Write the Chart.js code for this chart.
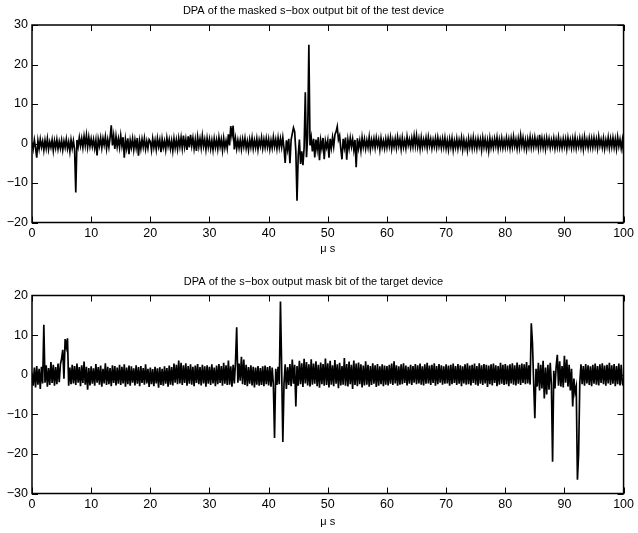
<!DOCTYPE html>
<html>
<head>
<meta charset="utf-8">
<script src="https://cdn.jsdelivr.net/npm/chart.js@4.4.1/dist/chart.umd.min.js"></script>
<style>
  html, body { margin: 0; padding: 0; background: #fff; }
  #wrap { position: relative; width: 638px; height: 533px; }
  canvas { position: absolute; left: 0; }
</style>
</head>
<body>
<div id="wrap">
  <canvas id="c1" width="638" height="266" style="top:0px"></canvas>
  <canvas id="c2" width="638" height="267" style="top:266px"></canvas>
</div>
<script>
// ---- data (sampled every 0.2 µs from 0 to 100 µs) ----
const timeStart = 0;
const sampleStep = 0.2;

const titleTop = 'DPA of the masked s\u2212box output bit of the test device';
const titleBottom = 'DPA of the s\u2212box output mask bit of the target device';
const xAxisLabel = '\u03bc s';

const xTickValues = [0, 10, 20, 30, 40, 50, 60, 70, 80, 90, 100];
const yTickValuesTop = [-20, -10, 0, 10, 20, 30];
const yTickValuesBottom = [-30, -20, -10, 0, 10, 20];

const dpaTestDevice = [
  0.3,-1.4,0.9,-1.1,-3.6,0.7,-1.3,1.1,-0.9,0.6,-1.7,0.8,-1.2,1.2,-1.5,0.4,-1.0,0.9,-1.8,0.7,-1.1,1.0,-1.4,0.5,-1.2,
  0.8,-1.6,0.6,-1.0,1.1,-1.3,0.4,-2.0,0.9,-1.2,0.7,-1.5,-12.4,0.9,-0.8,1.5,-0.6,1.3,-1.0,1.8,-0.5,2.1,-0.9,1.6,-0.7,
  1.2,-0.8,1.0,-1.2,0.9,-3.0,1.1,-0.6,1.4,-1.1,1.3,-0.4,1.7,-1.3,1.0,-0.9,1.5,4.6,-0.5,2.0,-1.4,1.8,-0.8,1.2,-1.0,
  2.0,-0.6,1.6,-3.6,1.0,-1.2,1.3,-2.7,0.8,-1.0,1.2,-1.6,0.9,-1.1,1.4,-3.1,0.7,-1.3,1.1,-0.9,1.3,-1.4,0.6,-1.2,1.0,
  0.5,-1.7,1.2,-1.0,0.8,-1.5,1.3,-0.8,0.9,-2.2,1.1,-1.0,0.6,-1.6,1.4,-0.7,1.0,-1.3,0.7,-1.8,1.2,-1.1,0.9,-1.4,1.3,
  -0.8,1.5,-1.2,2.0,-0.9,1.1,-1.6,1.8,-1.0,2.2,-0.6,1.4,-1.3,1.0,-1.9,1.6,-0.8,1.2,-1.1,1.9,-0.7,1.0,-1.5,1.3,-0.9,
  1.1,-1.3,0.8,-1.6,1.2,-1.0,0.9,-1.4,1.5,-0.8,1.0,-1.7,1.3,-1.1,0.7,-1.2,2.3,-0.5,4.4,2.0,4.5,-1.5,1.2,-1.3,0.8,
  -1.1,0.9,-1.4,1.1,-0.8,1.3,-1.2,0.6,-1.6,1.0,-0.9,1.4,-1.3,0.8,-1.0,1.2,-1.5,0.9,-0.7,1.5,-1.2,1.0,-1.0,1.3,-0.9,
  1.1,-1.4,0.8,-1.1,1.6,-0.8,1.0,-1.3,1.4,-1.0,1.2,-0.9,1.5,-1.2,-4.9,0.8,-1.5,1.2,-5.0,0.9,2.5,4.0,3.0,-2.0,-14.5,
  -3.0,1.0,-5.2,-2.0,-5.5,-1.0,13.0,-3.5,2.0,25.0,-0.5,1.5,-2.0,1.2,-3.5,1.0,-1.5,1.6,-4.2,0.8,-1.2,1.4,-4.0,0.6,-1.0,
  0.8,-3.6,1.2,-1.1,1.5,-0.8,2.2,3.0,4.3,1.0,2.0,-1.3,-4.0,1.2,-1.0,1.5,-4.1,0.9,-1.2,1.4,-0.8,1.1,-1.6,0.9,-6.0,
  1.3,-1.2,0.7,-1.8,1.5,-0.9,1.1,-1.3,0.8,-1.0,1.6,-1.4,0.9,-0.8,1.2,-1.1,1.4,-0.6,1.0,-1.5,1.3,-0.9,0.7,-1.2,1.1,
  -1.0,1.3,-0.7,1.5,-1.3,0.9,-0.8,1.2,-1.1,1.6,-0.6,1.1,-1.4,1.4,-0.9,0.8,-1.2,1.7,-0.5,1.0,-1.0,1.3,-0.8,1.9,-0.6,
  2.0,-0.8,1.2,-1.3,1.5,-0.9,1.0,-0.7,1.4,-1.1,1.6,-0.6,1.1,-1.2,0.9,-0.8,1.3,-1.0,1.5,-0.7,1.0,-1.1,1.2,-0.9,1.4,
  -1.2,0.8,-1.5,1.1,-0.9,1.3,-1.6,0.7,-1.0,1.2,-1.3,0.9,-0.8,1.4,-1.5,1.0,-1.1,0.6,-1.7,1.2,-0.9,1.1,-1.2,1.5,-1.0,
  0.9,-1.3,1.2,-0.8,1.0,-1.6,1.4,-0.9,1.1,-1.2,0.8,-1.8,1.3,-1.0,0.9,-1.1,1.2,-0.7,1.5,-1.3,1.0,-0.9,1.3,-1.1,0.8,
  -1.0,1.4,-0.8,1.1,-1.2,1.3,-0.9,1.7,-0.7,1.0,-1.3,1.2,-1.0,2.0,-0.6,1.4,-1.1,0.9,-1.4,1.1,-0.8,1.6,-1.0,1.2,-0.9,
  1.5,-0.7,1.0,-1.2,2.2,-0.8,1.3,-1.0,1.1,-1.3,1.4,-0.6,1.2,-1.1,0.9,-0.8,1.3,-1.2,1.0,-0.9,1.5,-1.0,0.8,-1.1,1.2,
  -0.8,1.1,-1.3,1.4,-0.7,1.0,-1.1,1.2,-0.9,1.5,-1.2,0.9,-0.8,1.3,-1.0,1.1,-1.4,1.6,-0.7,1.0,-1.1,1.3,-0.9,1.2,-1.0,
  1.4,-0.8,1.1,-1.2,1.7,-0.6,1.0,-1.0,1.3,-1.3,0.9,-0.8,1.5,-1.1,1.2,-0.9,1.4,-1.0,1.1,-1.3,1.6,-0.7,1.0,-1.2,0.9,
  -2.5
];

const dpaTargetDevice = [
  0.5,-2.8,1.8,-3.2,2.2,-2.5,1.5,-3.6,2.0,-2.2,12.6,-2.0,2.4,-3.0,1.7,-2.6,3.2,-2.1,2.5,-2.8,1.9,-2.4,2.8,-1.9,2.6,
  4.0,6.3,-1.0,9.0,7.0,9.2,-2.8,1.8,-2.4,2.5,-2.2,2.2,-2.6,2.8,-2.0,1.9,-2.9,2.4,-2.1,3.3,-2.5,2.0,-3.8,1.7,-2.7,
  2.1,-2.3,1.6,-2.8,2.7,-2.0,1.9,-2.5,2.3,-3.0,1.5,-2.2,2.9,-2.6,2.0,-2.4,1.7,-2.9,2.4,-2.1,2.2,-2.7,1.8,-2.3,2.5,
  -2.6,2.0,-2.2,2.6,-3.0,1.8,-2.4,2.3,-2.8,2.1,-2.0,1.6,-2.7,2.4,-2.3,1.9,-2.9,2.2,-2.1,1.7,-2.5,2.6,-2.2,1.5,-3.1,
  1.8,-2.4,1.4,-2.9,2.0,-2.2,1.6,-3.3,1.9,-2.6,1.5,-2.8,2.1,-2.3,1.7,-3.0,2.3,-2.5,1.9,-2.7,2.8,-2.0,2.5,-2.4,3.6,
  -2.2,3.0,-2.6,2.4,-2.1,2.9,-2.8,2.2,-2.3,2.6,-2.5,2.0,-2.9,2.3,-2.1,2.7,-2.4,1.9,-2.7,2.5,-2.2,2.1,-3.0,2.4,-2.3,
  2.0,-2.6,2.6,-2.2,1.8,-2.9,2.3,-2.4,2.7,-2.1,2.2,-2.8,3.0,-2.3,2.4,-2.6,3.6,-2.5,2.1,-3.0,2.5,-2.2,3.2,12.0,-2.0,
  2.8,-1.5,4.5,-2.4,3.8,-2.6,2.5,-2.9,1.9,-2.3,2.4,-2.7,2.0,-3.2,1.8,-2.5,2.2,-2.8,1.7,-2.6,2.1,-2.9,2.3,-2.4,1.9,
  -2.7,2.2,-3.0,1.8,-2.5,-16.0,1.5,-2.6,2.0,-2.4,18.5,2.0,-17.0,-2.2,2.6,-3.6,1.9,-2.6,2.7,-2.9,3.8,-2.3,2.5,-8.0,2.2,
  -2.8,3.5,-2.4,2.9,-3.1,4.0,-2.2,3.2,-2.7,2.6,-3.0,3.9,-2.5,2.8,-2.3,3.4,-2.9,2.5,-3.3,3.1,-2.4,2.7,-2.8,4.1,-2.6,
  2.9,-3.2,3.5,-2.5,2.4,-2.9,3.7,-2.3,2.6,-3.4,3.0,-2.7,2.2,-2.5,4.2,-2.8,2.7,-3.0,3.3,-2.4,2.5,-3.6,3.6,-2.6,2.8,
  -2.9,3.1,-2.4,2.6,-3.2,2.3,-2.7,3.4,-2.5,2.5,-3.0,2.2,-2.6,2.9,-2.3,2.4,-3.1,2.7,-2.8,2.1,-2.4,2.6,-2.9,2.3,-2.5,
  2.2,-2.7,2.5,-2.3,2.8,-2.6,3.4,-2.2,2.4,-2.8,2.1,-2.5,2.6,-2.4,2.9,-2.1,2.3,-2.7,2.0,-2.3,2.5,-2.6,2.2,-2.0,2.7,
  -2.4,2.4,-2.2,2.8,-2.5,2.1,-2.7,2.6,-2.3,3.0,-2.2,2.3,-2.6,2.5,-2.1,2.9,-2.8,2.2,-2.4,2.7,-2.0,2.4,-2.5,2.1,-2.3,
  2.6,-2.2,2.3,-2.8,2.5,-2.4,2.8,-2.1,2.2,-2.6,2.7,-2.3,2.4,-2.9,2.1,-2.2,2.6,-2.5,2.9,-2.4,2.3,-2.7,2.5,-2.1,2.8,
  -2.5,2.2,-2.8,2.9,-2.3,2.4,-2.6,2.7,-2.2,2.5,-3.1,2.3,-2.4,2.6,-2.7,2.8,-2.1,2.4,-2.9,2.2,-2.5,3.0,-2.3,2.5,-2.6,
  2.7,-2.4,2.3,-2.9,2.6,-2.2,2.9,-2.5,2.4,-2.7,3.1,-2.3,2.5,-2.6,2.8,-2.1,2.6,-2.4,3.2,-2.2,2.4,-2.5,13.0,8.0,-2.0,
  -11.0,1.5,-3.0,3.0,-4.0,2.5,-3.5,3.5,-6.0,1.8,-5.0,2.5,-3.8,3.0,-2.5,-22.0,1.0,-3.5,2.0,5.0,-2.8,3.4,-3.0,2.2,-3.2,
  4.8,-2.0,3.8,-3.0,2.5,-4.0,1.5,-8.0,-1.0,-4.5,-3.0,-26.5,-20.0,-2.0,2.6,-2.4,2.2,-2.8,2.7,-2.2,2.4,-2.6,2.1,-2.9,2.5,
  -2.3,2.8,-2.5,2.2,-2.7,2.6,-2.1,2.9,-2.4,2.3,-2.8,2.5,-2.2,3.0,-2.6,2.4,-2.3,2.7,-2.9,2.2,-2.4,2.8,-2.7,2.5,-2.3,
  -2.8
];

// ---- rendering ----
const FONT = '"Liberation Sans", Arial, Helvetica, sans-serif';

function toPoints(values) {
  return values.map((v, i) => ({ x: +(timeStart + i * sampleStep).toFixed(2), y: v }));
}

function fmt(v) {
  return v < 0 ? '\u2212' + Math.abs(v) : String(v);
}

const boxPlugin = {
  id: 'matlabBox',
  afterDraw(chart) {
    const { ctx, chartArea: a, scales } = chart;
    const tl = 6;
    ctx.save();
    ctx.strokeStyle = '#000';
    ctx.lineWidth = 1;
    ctx.beginPath();
    scales.x.ticks.forEach(t => {
      const px = Math.round(scales.x.getPixelForValue(t.value)) + 0.5;
      ctx.moveTo(px, a.bottom); ctx.lineTo(px, a.bottom - tl);
      ctx.moveTo(px, a.top); ctx.lineTo(px, a.top + tl);
    });
    scales.y.ticks.forEach(t => {
      const py = Math.round(scales.y.getPixelForValue(t.value)) + 0.5;
      ctx.moveTo(a.left, py); ctx.lineTo(a.left + tl, py);
      ctx.moveTo(a.right, py); ctx.lineTo(a.right - tl, py);
    });
    ctx.stroke();
    ctx.lineWidth = 1.5;
    ctx.strokeRect(a.left, a.top, a.right - a.left, a.bottom - a.top);
    ctx.restore();
  }
};

function makeChart(id, values, title, yTicks, cfg) {
  return new Chart(document.getElementById(id), {
    type: 'line',
    data: {
      datasets: [{
        data: toPoints(values),
        borderColor: '#000',
        borderWidth: 1.7,
        borderJoinStyle: 'miter',
        pointRadius: 0,
        tension: 0,
        fill: false
      }]
    },
    options: {
      responsive: false,
      animation: false,
      devicePixelRatio: 1,
      layout: { padding: { left: 0, right: 11, top: 0, bottom: 0 } },
      plugins: {
        legend: { display: false },
        tooltip: { enabled: false },
        title: {
          display: true,
          text: title,
          color: '#000',
          font: { family: FONT, size: 11, weight: 'normal' },
          padding: { top: cfg.titleTop, bottom: cfg.titleBottom }
        }
      },
      scales: {
        x: {
          type: 'linear',
          min: 0, max: 100,
          grid: { display: false, drawTicks: false },
          border: { display: false },
          afterBuildTicks: s => { s.ticks = xTickValues.map(v => ({ value: v })); },
          afterFit: s => { s.height = cfg.xHeight; },
          ticks: {
            color: '#000',
            padding: 4,
            maxRotation: 0,
            font: { family: FONT, size: 12.5 },
            callback: v => fmt(v)
          },
          title: {
            display: true,
            text: xAxisLabel,
            color: '#000',
            font: { family: FONT, size: 11 },
            padding: { top: 0, bottom: cfg.xTitleBottom }
          }
        },
        y: {
          type: 'linear',
          min: yTicks[0], max: yTicks[yTicks.length - 1],
          grid: { display: false, drawTicks: false },
          border: { display: false },
          afterBuildTicks: s => { s.ticks = yTicks.map(v => ({ value: v })); },
          afterFit: s => { s.width = 32; },
          ticks: {
            color: '#000',
            padding: 4,
            font: { family: FONT, size: 12.5 },
            callback: v => fmt(v)
          }
        }
      }
    },
    plugins: [boxPlugin]
  });
}

makeChart('c1', dpaTestDevice, titleTop, yTickValuesTop,
  { titleTop: 4, titleBottom: 7.8, xHeight: 43.5, xTitleBottom: 10.4 });
makeChart('c2', dpaTargetDevice, titleBottom, yTickValuesBottom,
  { titleTop: 9.7, titleBottom: 6.6, xHeight: 39.5, xTitleBottom: 4.4 });
</script>
</body>
</html>
